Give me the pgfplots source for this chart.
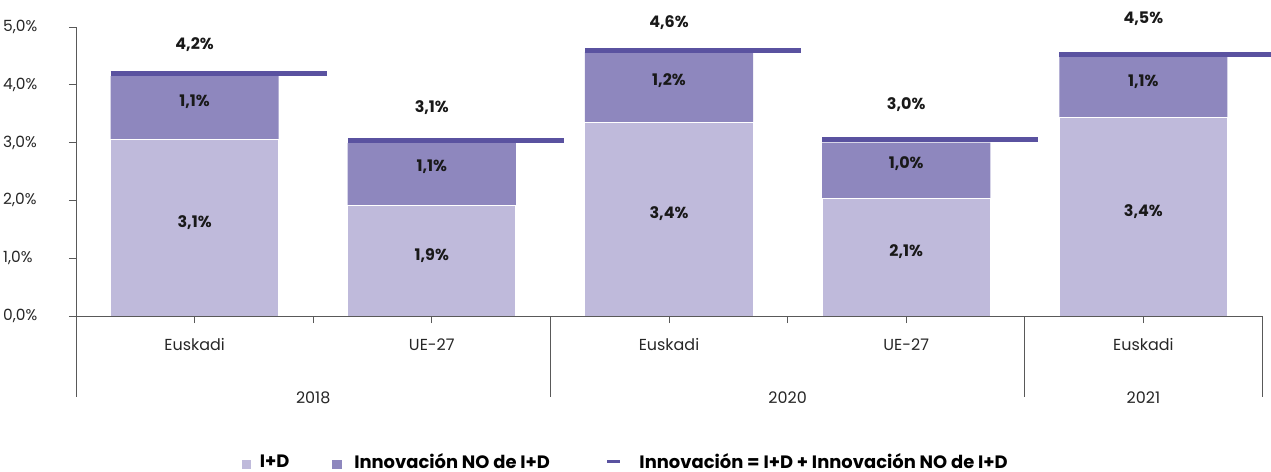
\documentclass[border=0pt]{standalone}
\usepackage{fontspec}
\setmainfont{Poppins}
\usepackage{pgfplots}
\pgfplotsset{compat=1.18}

\definecolor{cID}{HTML}{BFBADB}
\definecolor{cNO}{HTML}{8E87BE}
\definecolor{cTot}{HTML}{5A52A0}
\definecolor{cAx}{HTML}{595959}

\begin{document}
\begin{tikzpicture}
\path[use as bounding box] (-76bp,-156bp) rectangle (1195bp,316bp);
\begin{axis}[
  at={(0,0)}, anchor=south west,
  scale only axis, width=1186bp, height=289bp,
  xmin=-0.5, xmax=4.5, ymin=0, ymax=5,
  clip=false, axis on top,
  axis x line*=bottom, axis y line*=left,
  axis line style={cAx, line width=0.8bp},
  xtick={0,...,4},
  xticklabels={Euskadi,UE-27,Euskadi,UE-27,Euskadi},
  extra x ticks={0.5,2.5}, extra x tick labels={},
  ytick={0,...,5},
  yticklabels={{0,0\%},{1,0\%},{2,0\%},{3,0\%},{4,0\%},{5,0\%}},
  tick align=outside, major tick length=7bp,
  tick style={cAx, line width=0.8bp},
  xticklabel style={font=\fontsize{16}{18}\selectfont, text=black!85, anchor=center, yshift=-22bp},
  yticklabel style={font=\fontsize{15.5}{17}\selectfont, text=black!85, anchor=west, inner sep=0pt, xshift=-66bp},
  legend columns=3,
  legend style={draw=none, fill=none, at={(0.1397,-0.505)}, anchor=west,
    font=\bfseries\fontsize{18}{20}\selectfont, inner sep=0pt,
    nodes={inner sep=0pt},
    /tikz/column 1/.style={column sep=9bp},
    /tikz/column 2/.style={column sep=43bp},
    /tikz/column 3/.style={column sep=13bp},
    /tikz/column 4/.style={column sep=56bp},
    /tikz/column 5/.style={column sep=18bp}},
  nodes near coords style={font=\bfseries\fontsize{16}{18}\selectfont, text=black!90, anchor=center},
]
% Innovacion total (I+D + NO I+D) stacked top
\addplot[ybar, bar width=0.709, bar shift=0pt, fill=cNO, draw=none, forget plot]
  coordinates {(0,4.15) (1,2.995) (2,4.57) (3,3.00) (4,4.48)};
% I+D
\addplot[ybar, bar width=0.709, bar shift=0pt, fill=cID, draw=white, line width=1bp, forget plot]
  coordinates {(0,3.06) (1,1.92) (2,3.35) (3,2.04) (4,3.43)};
% Innovacion total line
\addplot[cTot, line width=5bp, forget plot, unbounded coords=jump]
  coordinates {(-0.354,4.20) (0.557,4.20) (0.557,nan)
               (0.646,3.04) (1.557,3.04) (1.557,nan)
               (1.646,4.60) (2.557,4.60) (2.557,nan)
               (2.646,3.05) (3.557,3.05) (3.557,nan)
               (3.646,4.53) (4.557,4.53)};
% labels
\addplot[draw=none, mark=none, forget plot, nodes near coords={\pgfplotspointmeta\%}, point meta=explicit symbolic]
  coordinates {(0,1.61) [3,1] (1,1.05) [1,9] (2,1.77) [3,4] (3,1.11) [2,1] (4,1.80) [3,4]
               (0,3.70) [1,1] (1,2.58) [1,1] (2,4.08) [1,2] (3,2.64) [1,0] (4,4.05) [1,1]
               (0,4.70) [4,2] (1,3.61) [3,1] (2,5.08) [4,6] (3,3.66) [3,0] (4,5.15) [4,5]};
% group separators
\draw[cAx, line width=0.8bp] (axis cs:-0.5,0) -- ++(0pt,-81bp);
\draw[cAx, line width=0.8bp] (axis cs:1.5,0) -- ++(0pt,-81bp);
\draw[cAx, line width=0.8bp] (axis cs:3.5,0) -- ++(0pt,-81bp);
\draw[cAx, line width=0.8bp] (axis cs:4.5,0) -- ++(0pt,-81bp);
\node[font=\fontsize{16}{18}\selectfont, text=black!85] at ([yshift=-82bp]axis cs:0.5,0) {2018};
\node[font=\fontsize{16}{18}\selectfont, text=black!85] at ([yshift=-82bp]axis cs:2.5,0) {2020};
\node[font=\fontsize{16}{18}\selectfont, text=black!85] at ([yshift=-82bp]axis cs:4,0) {2021};
% legend
\addlegendimage{legend image code/.code={\fill[cID] (0bp,-6.5bp) rectangle (8.5bp,2bp);}}
\addlegendimage{legend image code/.code={\fill[cNO] (0bp,-6.5bp) rectangle (8.5bp,2bp);}}
\addlegendimage{legend image code/.code={\draw[cTot, line width=2.5bp] (0bp,0.5bp) -- (13bp,0.5bp);}}
\legend{I+D, Innovación NO de I+D, Innovación = I+D + Innovación NO de I+D}
\end{axis}
\end{tikzpicture}
\end{document}
